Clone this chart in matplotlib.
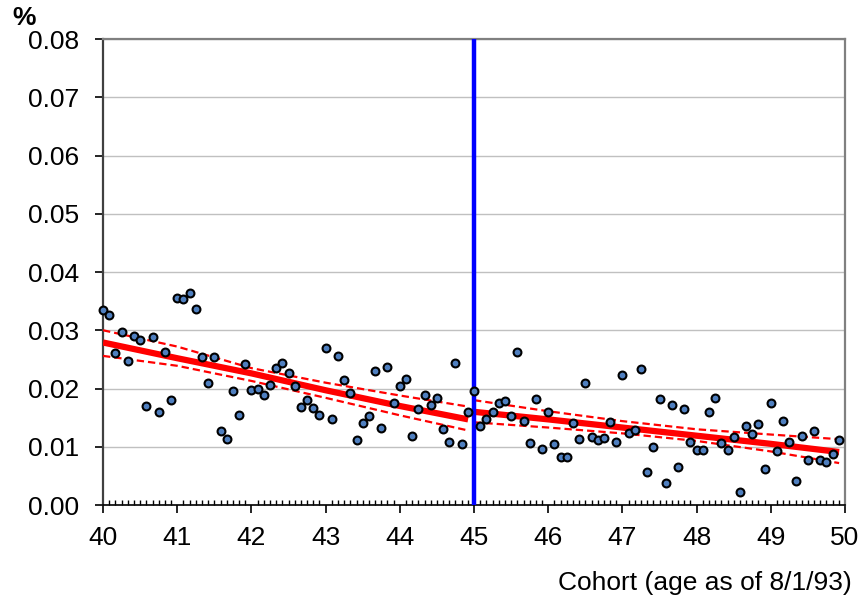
import numpy as np
import matplotlib
matplotlib.use("Agg")
import matplotlib.pyplot as plt
from matplotlib.ticker import MultipleLocator, FormatStrFormatter

plt.rcParams['font.family'] = ['Liberation Sans', 'DejaVu Sans']

# monthly cohorts, age 40 to 50 (as of 8/1/93)
months = np.arange(120)
cohort_age = 40 + months / 12

rate = [0.0334, 0.0326, 0.0261, 0.0297, 0.0248, 0.0290, 0.0283, 0.0170, 0.0288, 0.0160,
        0.0262, 0.0180, 0.0356, 0.0353, 0.0364, 0.0337, 0.0254, 0.0210, 0.0254, 0.0127,
        0.0113, 0.0196, 0.0155, 0.0242, 0.0197, 0.0200, 0.0189, 0.0206, 0.0235, 0.0244,
        0.0226, 0.0204, 0.0168, 0.0181, 0.0166, 0.0155, 0.0270, 0.0148, 0.0255, 0.0215,
        0.0193, 0.0112, 0.0140, 0.0153, 0.0230, 0.0133, 0.0237, 0.0175, 0.0204, 0.0216,
        0.0119, 0.0165, 0.0189, 0.0171, 0.0183, 0.0131, 0.0108, 0.0244, 0.0104, 0.0160,
        0.0196, 0.0136, 0.0148, 0.0159, 0.0175, 0.0178, 0.0153, 0.0262, 0.0144, 0.0107,
        0.0182, 0.0096, 0.0160, 0.0105, 0.0083, 0.0083, 0.0140, 0.0113, 0.0209, 0.0116,
        0.0112, 0.0115, 0.0142, 0.0109, 0.0223, 0.0124, 0.0129, 0.0233, 0.0057, 0.0100,
        0.0182, 0.0037, 0.0171, 0.0065, 0.0165, 0.0109, 0.0094, 0.0094, 0.0160, 0.0184,
        0.0107, 0.0095, 0.0116, 0.0022, 0.0136, 0.0122, 0.0139, 0.0062, 0.0175, 0.0093,
        0.0145, 0.0109, 0.0042, 0.0119, 0.0077, 0.0127, 0.0078, 0.0074, 0.0088, 0.0112]

# fitted line and confidence band, below and above the cutoff at 45
left_x = [40, 41, 42, 43, 44, 44.92]
left_fit = [0.0279, 0.0252, 0.0226, 0.0197, 0.0170, 0.0147]
left_upper = [0.0300, 0.0272, 0.0235, 0.0210, 0.0188, 0.0169]
left_lower = [0.0256, 0.0239, 0.0213, 0.0184, 0.0154, 0.0128]

right_x = [45, 46, 47, 48, 49, 49.92]
right_fit = [0.0160, 0.0147, 0.0133, 0.0119, 0.0105, 0.0091]
right_upper = [0.0180, 0.0161, 0.0144, 0.0130, 0.0121, 0.0113]
right_lower = [0.0142, 0.0133, 0.0123, 0.0110, 0.0092, 0.0072]

cutoff = 45

fig = plt.figure(figsize=(8.63, 6.02), dpi=100)
ax = fig.add_axes([0.1194, 0.1611, 0.8598, 0.7741])

ax.set_xlim(40, 50)
ax.set_ylim(0, 0.08)

ax.yaxis.set_major_locator(MultipleLocator(0.01))
ax.yaxis.set_major_formatter(FormatStrFormatter('%.2f'))
ax.xaxis.set_major_locator(MultipleLocator(1))
ax.xaxis.set_minor_locator(MultipleLocator(1 / 12))
ax.grid(axis='y', color='#c0c0c0', linewidth=1.0, zorder=0)

# red fit + dashed CI
for xs, fit, up, lo in [(left_x, left_fit, left_upper, left_lower),
                        (right_x, right_fit, right_upper, right_lower)]:
    ax.plot(xs, fit, color='#ff0000', linewidth=4.5, solid_capstyle='butt', zorder=3)
    ax.plot(xs, up, color='#ff0000', linewidth=1.6, linestyle=(0, (3.3, 1.8)), zorder=3)
    ax.plot(xs, lo, color='#ff0000', linewidth=1.6, linestyle=(0, (3.3, 1.8)), zorder=3)

ax.axvline(cutoff, color='#0000ff', linewidth=3.2, zorder=4)

ax.scatter(cohort_age, rate, s=32, facecolor='#4f7fbf', edgecolor='black',
           linewidths=1.5, zorder=5, clip_on=False)

for side in ['top', 'right']:
    ax.spines[side].set_color('#808080')
    ax.spines[side].set_linewidth(1.6)
ax.spines['left'].set_color('#404040')
ax.spines['left'].set_linewidth(1.6)
ax.spines['bottom'].set_color('black')
ax.spines['bottom'].set_linewidth(1.2)

ax.tick_params(axis='y', which='major', direction='out', length=6, width=1.2,
               pad=11, labelsize=19)
ax.tick_params(axis='x', which='major', direction='out', length=6, width=1.2,
               pad=9, labelsize=19)
ax.tick_params(axis='x', which='minor', direction='in', length=3.8, width=1.0)

fig.text(12 / 863, 1 - 25 / 602, '%', fontsize=19, fontweight='bold', va='baseline')
fig.text(852 / 863, 1 - 583 / 602, 'Cohort (age as of 8/1/93)', fontsize=19,
         ha='right', va='center')

fig.savefig('out.png', dpi=100)
